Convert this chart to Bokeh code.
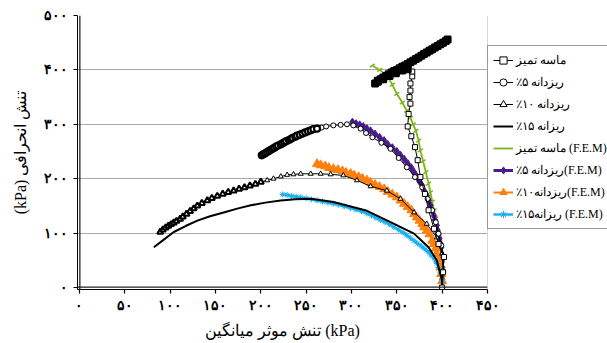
from bokeh.plotting import figure
from bokeh.models import Range1d, Legend, LegendItem, Span
from bokeh.embed import file_html
from bokeh.resources import INLINE

# ---------------- data (kPa) ----------------
# experimental: clean sand (squares)
clean_x = [400, 401, 402, 396, 391, 385, 381, 376, 373, 370, 366, 362, 363, 365, 364, 365, 365, 367, 367,
           362, 356, 349, 342, 335, 329, 326,
           329, 332, 335, 338, 341, 344, 347, 350, 353, 356, 359, 362, 365, 368, 371, 374, 377, 380,
           383, 386, 389, 392, 395, 398, 401, 404, 406]
clean_y = [0, 28, 56, 80, 108, 142, 172, 203, 234, 258, 278, 296, 319, 338, 350, 362, 375, 388, 397,
           401, 399, 394, 389, 383, 378, 375,
           380, 383, 386, 389, 392, 395, 398, 400, 403, 406, 408, 411, 414, 417, 420, 423, 426, 429,
           432, 435, 438, 441, 444, 447, 450, 453, 456]

# experimental: 5% fines (circles)
f5_x = [201, 203, 205, 207, 209, 211, 213, 215, 217, 219, 222, 224, 226, 228, 231, 233, 235, 238, 240,
        243, 246, 249, 252, 255, 258, 262, 267, 272, 280, 288, 295, 302, 310, 316, 323, 333, 343, 352,
        361, 370, 378, 384, 389, 393, 396, 399, 402, 401, 400]
f5_y = [243, 245, 247, 249, 251, 253, 255, 257, 259, 261, 263, 265, 267, 269, 271, 273, 275, 277, 279,
        281, 283, 285, 287, 289, 291, 292, 294, 296, 298, 299, 300, 298, 292, 284, 276, 266, 255, 238,
        221, 203, 184, 163, 142, 120, 99, 77, 56, 30, 0]

# experimental: 10% fines (triangles)
f10_x = [89, 92, 95, 98, 101, 104, 107, 111, 114, 118, 122, 126, 130, 135, 141, 146, 152, 158, 164, 170,
         176, 182, 188, 194, 200, 207, 214, 222, 229, 236, 244, 255, 266, 277, 291, 306, 321, 339, 354,
         369, 383, 394, 400, 401, 400]
f10_y = [102, 106, 110, 113, 116, 119, 122, 126, 130, 135, 140, 145, 150, 155, 160, 164, 168, 172, 175, 178,
         181, 184, 187, 190, 194, 197, 200, 204, 207, 208, 209, 209, 209, 208, 206, 197, 186, 178, 163,
         138, 117, 92, 62, 30, 0]

# experimental: 15% fines (plain line)
f15_x = [82, 93, 104, 117, 130, 144, 159, 174, 189, 205, 222, 238, 255, 280, 317, 347, 369, 385, 394, 400, 400]
f15_y = [74, 88, 102, 113, 123, 131, 138, 145, 151, 156, 160, 162, 163, 157, 141, 117, 99, 74, 50, 12, 0]

# F.E.M: clean sand (green)
fem0_x = [323, 331, 339, 345, 350, 356, 361, 365, 368, 371, 374, 376, 379, 382, 385, 387, 389, 391, 393,
          394, 396, 397, 398, 399, 400, 400, 400, 400]
fem0_y = [408, 400, 390, 373, 356, 340, 325, 312, 300, 288, 270, 252, 232, 212, 191, 175, 158, 142, 127,
          113, 99, 85, 72, 62, 45, 30, 15, 0]

# F.E.M: 5% fines (purple)
fem5_x = [301, 305, 309, 313, 317, 321, 326, 331, 336, 340, 345, 350, 354, 358, 362, 366, 369, 372, 375,
          378, 380, 383, 385, 387, 389, 391, 392, 394, 395, 396, 397, 398, 399, 400, 400, 400]
fem5_y = [304, 301, 299, 296, 292, 288, 282, 276, 270, 263, 257, 250, 243, 236, 228, 220, 212, 204, 195,
          187, 178, 169, 160, 151, 141, 132, 124, 114, 105, 97, 90, 81, 74, 55, 37, 15]

# F.E.M: 10% fines (orange)
fem10_x = [262, 266, 271, 275, 280, 285, 290, 294, 299, 303, 308, 312, 317, 321, 326, 331, 336, 340, 345,
           350, 354, 358, 362, 366, 369, 372, 375, 378, 380, 383, 386, 389, 391, 393, 394, 396, 398, 399, 400]
fem10_y = [227, 225, 223, 220, 218, 216, 214, 211, 209, 206, 203, 200, 197, 193, 189, 185, 181, 176, 171,
           166, 160, 154, 148, 142, 135, 129, 123, 117, 111, 105, 98, 86, 80, 72, 62, 50, 37, 25, 12]

# F.E.M: 15% fines (light blue)
fem15_x = [224, 229, 234, 239, 244, 250, 256, 262, 268, 274, 280, 286, 292, 299, 305, 311, 317, 322, 327,
           332, 337, 342, 347, 352, 357, 361, 365, 369, 373, 377, 380, 383, 386, 389, 392, 394, 396, 398,
           400, 400]
fem15_y = [171, 170, 168, 167, 166, 164, 162, 160, 158, 156, 154, 152, 149, 146, 143, 140, 136, 132, 128,
           124, 120, 116, 111, 106, 101, 96, 91, 86, 81, 76, 72, 68, 63, 57, 51, 44, 37, 28, 12, 0]

# legend names (right-to-left text)
legend_labels = ["ماسه تمیز", "ریزدانه ۵٪", "ریزدانه ۱۰٪", "ریزانه ۱۵٪",
                 "(F.E.M) ماسه تمیز", "(F.E.M)ریزدانه ۵٪", "(F.E.M)ریزدانه۱۰٪", "(F.E.M) ریزانه۱۵٪"]

x_ticks = [0, 50, 100, 150, 200, 250, 300, 350, 400, 450]
x_tick_labels = ["۰", "۵۰", "۱۰۰", "۱۵۰", "۲۰۰", "۲۵۰", "۳۰۰", "۳۵۰", "۴۰۰", "۴۵۰"]
y_ticks = [0, 100, 200, 300, 400, 500]
y_tick_labels = ["۰", "۱۰۰", "۲۰۰", "۳۰۰", "۴۰۰", "۵۰۰"]

x_title = "تنش موثر میانگین (kPa)"
y_title = "(kPa) تنش انحرافی"

RLE, PDF = "\u202b", "\u202c"

# ---------------- figure ----------------
p = figure(frame_width=410, frame_height=274, output_backend="svg", toolbar_location=None,
           x_range=Range1d(-2.2, 450), y_range=Range1d(-3.7, 500),
           min_border_left=77, min_border_right=0, min_border_top=15, min_border_bottom=40)
p.background_fill_color = "white"
p.border_fill_color = "white"
p.outline_line_color = None

p.xgrid.grid_line_color = None
p.ygrid.grid_line_color = "#555555"
p.ygrid.grid_line_dash = "1 1"
p.ygrid.grid_line_width = 1
p.ygrid.ticker = [100, 200, 300, 400, 500]

# frame edge lines (axis lines drawn as spans just inside the frame)
p.add_layout(Span(location=450, dimension="height", line_color="#b0b0b0", line_width=1))
p.add_layout(Span(location=0.4, dimension="height", line_color="#222222", line_width=1.3, level="overlay"))
p.add_layout(Span(location=0.6, dimension="width", line_color="#222222", line_width=1.3, level="overlay"))

font = "Liberation Serif"
for ax in (p.xaxis[0], p.yaxis[0]):
    ax.axis_line_color = "black"
    ax.axis_line_width = 1
    ax.major_tick_line_color = "black"
    ax.major_tick_line_width = 1.2
    ax.major_tick_in = 0
    ax.major_tick_out = 4
    ax.minor_tick_line_color = None
    ax.major_label_text_font = font
    ax.major_label_text_font_size = "14px"
    ax.major_label_text_font_style = "bold"
    ax.major_label_text_color = "black"
    ax.axis_label_text_font = font
    ax.axis_label_text_font_size = "16px"
    ax.axis_label_text_font_style = "normal"
    ax.axis_label_text_color = "black"

p.xaxis.ticker = x_ticks
p.xaxis.major_label_overrides = dict(zip(x_ticks, x_tick_labels))
p.yaxis.ticker = y_ticks
p.yaxis.major_label_overrides = dict(zip(y_ticks, y_tick_labels))
p.xaxis.axis_label = x_title
p.yaxis.axis_label = y_title
p.xaxis.major_label_standoff = 4
p.yaxis.major_label_standoff = 6
p.xaxis.axis_label_standoff = 6
p.yaxis.axis_label_standoff = 12

# FEM series
g_l = p.line(fem0_x, fem0_y, line_color="#7cb518", line_width=1.8)
g_m = p.scatter(fem0_x, fem0_y, marker="dash", size=6, angle=0.6, line_color="#7cb518", line_width=1.5)

pu_l = p.line(fem5_x, fem5_y, line_color="#4b1c8c", line_width=3)
pu_m = p.scatter(fem5_x, fem5_y, marker="diamond", size=8, fill_color="#4b1c8c", line_color="#4b1c8c")

o_l = p.line(fem10_x, fem10_y, line_color="#ff7f0e", line_width=2)
o_m = p.scatter(fem10_x, fem10_y, marker="triangle", size=9, fill_color="#ff7f0e", line_color="#ff7f0e")

c_l = p.line(fem15_x, fem15_y, line_color="#1ab0f0", line_width=2.5)
c_m = p.scatter(fem15_x, fem15_y, marker="asterisk", size=6, line_color="#1ab0f0", line_width=1)

# experimental series
k15 = p.line(f15_x, f15_y, line_color="black", line_width=2)

k10_l = p.line(f10_x, f10_y, line_color="black", line_width=1)
k10_m = p.scatter(f10_x[25:], f10_y[25:], marker="triangle", size=5, fill_color="white",
                  line_color="black", line_width=1)
p.scatter(f10_x[:25], f10_y[:25], marker="triangle", size=6, fill_color="white",
          line_color="black", line_width=2)

k5_l = p.line(f5_x, f5_y, line_color="black", line_width=1)
k5_m = p.scatter(f5_x[26:], f5_y[26:], marker="circle", size=5, fill_color="white",
                 line_color="black", line_width=1)
p.scatter(f5_x[:26], f5_y[:26], marker="circle", size=6, fill_color="white",
          line_color="black", line_width=2.2)

k0_l = p.line(clean_x, clean_y, line_color="black", line_width=1)
k0_m = p.scatter(clean_x[:19], clean_y[:19], marker="square", size=5, fill_color="white",
                 line_color="black", line_width=1)
p.scatter(clean_x[19:], clean_y[19:], marker="square", size=6, fill_color="black",
          line_color="black", line_width=2)

renderer_groups = [[k0_l, k0_m], [k5_l, k5_m], [k10_l, k10_m], [k15],
                   [g_l], [pu_l, pu_m], [o_l, o_m], [c_l, c_m]]
items = [LegendItem(label=RLE + lab + PDF, renderers=rs)
         for lab, rs in zip(legend_labels, renderer_groups)]
legend = Legend(items=items, location=(0, 60))
legend.border_line_color = "#333333"
legend.border_line_width = 1
legend.background_fill_color = "white"
legend.background_fill_alpha = 1
legend.label_text_font = font
legend.label_text_font_size = "12px"
legend.label_text_color = "black"
legend.glyph_width = 20
legend.glyph_height = 18
legend.label_height = 18
legend.label_standoff = 3
legend.spacing = 4
legend.padding = 5
legend.margin = 6
p.add_layout(legend, "right")

open("out.html", "w").write(file_html(p, INLINE))
